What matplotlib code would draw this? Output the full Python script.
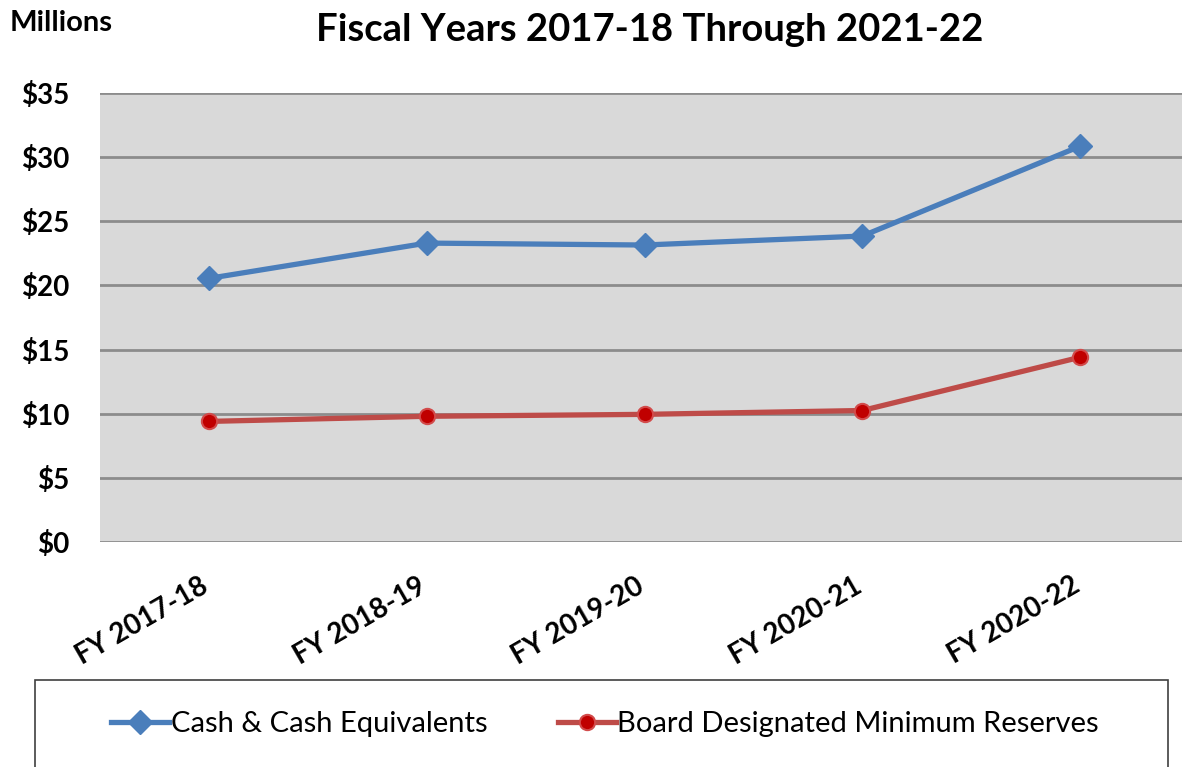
import matplotlib.pyplot as plt
import matplotlib.transforms as mtransforms
from matplotlib.patches import Rectangle

categories = ["FY 2017-18", "FY 2018-19", "FY 2019-20", "FY 2020-21", "FY 2020-22"]
cash = [20.55, 23.3, 23.15, 23.85, 30.85]
reserves = [9.4, 9.8, 9.95, 10.25, 14.4]
y_ticks = [0, 5, 10, 15, 20, 25, 30, 35]

plt.rcParams['font.family'] = ['Lato', 'DejaVu Sans']

fig = plt.figure(figsize=(11.82, 7.67), dpi=100)
ax = fig.add_axes([100/1182, 1 - 542/767, 1089/1182, 449/767])
ax.set_facecolor('#d9d9d9')

x = list(range(len(categories)))
ax.plot(x, cash, color='#4a7ebb', lw=3.8, marker='D', markersize=12,
        markerfacecolor='#4a7ebb', markeredgecolor='#4a7ebb',
        label="Cash & Cash Equivalents", zorder=3)
ax.plot(x, reserves, color='#be4b48', lw=3.8, marker='o', markersize=11,
        markerfacecolor='#c00000', markeredgecolor='#d24b4b', markeredgewidth=1.5,
        label="Board Designated Minimum Reserves", zorder=3)

ax.set_xlim(-0.5, 4.5)
ax.set_ylim(0, 35)
ax.set_yticks(y_ticks)
ax.set_yticklabels(["$%d" % v for v in y_ticks], fontsize=20, fontweight='bold')
ax.set_xticks(x)
ax.set_xticklabels(categories, fontsize=20, fontweight='bold', rotation=30,
                   ha='right', rotation_mode='anchor')
ax.tick_params(axis='both', length=0)
ax.tick_params(axis='y', pad=22)
ax.tick_params(axis='x', pad=22)
shift = mtransforms.ScaledTranslation(-0.09, 0, fig.dpi_scale_trans)
for lab in ax.get_xticklabels():
    lab.set_transform(lab.get_transform() + shift)
ax.grid(axis='y', color='#8c8c8c', lw=2)
ax.set_axisbelow(True)
for s in ax.spines.values():
    s.set_visible(False)

fig.text(10/1182, 1 - 23/767, "Millions", fontsize=21, fontweight='bold', va='center')
fig.text(650/1182, 1 - 30/767, "Fiscal Years 2017-18 Through 2021-22",
         fontsize=27.5, fontweight='bold', ha='center', va='center')

# legend frame
fig.patches.append(Rectangle((35/1182, -0.05), 1133/1182, 0.05 + 87/767,
                             transform=fig.transFigure, fill=False,
                             edgecolor='#404040', lw=1.2))
fig.legend(loc='center', bbox_to_anchor=(605/1182, 1 - 724/767), ncol=2,
           frameon=False, fontsize=21, handlelength=2.0, handletextpad=0.05,
           columnspacing=2.4)

fig.savefig("out.png", dpi=100)
